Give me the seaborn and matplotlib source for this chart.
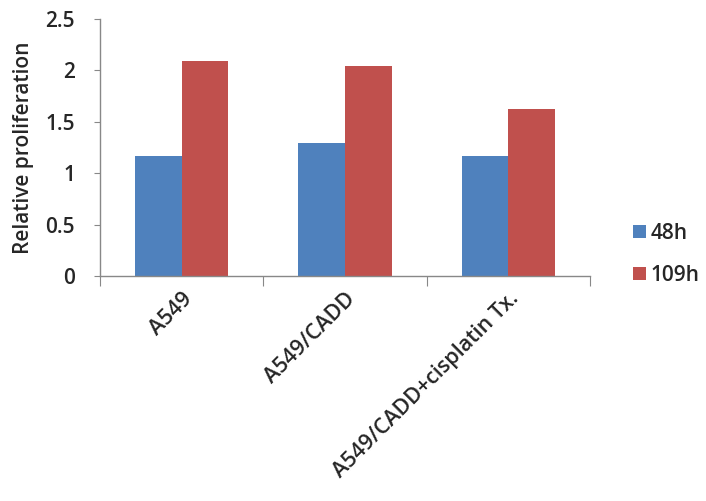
import matplotlib
matplotlib.use('Agg')
import matplotlib.pyplot as plt
import pandas as pd
import seaborn as sns

# values
groups = ['A549', 'A549/CADD', 'A549/CADD+cisplatin Tx.']
series = ['48h', '109h']
vals_48h = [1.17, 1.29, 1.17]
vals_109h = [2.09, 2.04, 1.62]
yticks = [0, 0.5, 1, 1.5, 2, 2.5]
ytick_labels = ['0', '0.5', '1', '1.5', '2', '2.5']

df = pd.DataFrame({
    'group': groups * 2,
    'time': [series[0]] * 3 + [series[1]] * 3,
    'value': vals_48h + vals_109h,
})

sns.set_style('white')
plt.rcParams['font.family'] = ['Open Sans', 'DejaVu Sans']

fig = plt.figure(figsize=(7.06, 5.01), dpi=100)
ax = fig.add_axes([100 / 706, 1 - 276 / 501, 490 / 706, 257 / 501])

sns.barplot(data=df, x='group', y='value', hue='time', order=groups,
            hue_order=series, palette=['#4F81BD', '#C0504D'],
            width=0.57, saturation=1, ax=ax, linewidth=0)

ax.set_ylim(0, 2.5)
ax.set_xlim(-0.5, 2.5)
ax.set_yticks(yticks)
ax.set_yticklabels(ytick_labels, fontsize=15, fontweight='semibold')
ax.set_xlabel('')
ax.set_ylabel('Relative proliferation', fontsize=15, fontweight='semibold', labelpad=8)

# category boundaries carry the ticks, labels sit at centres
ax.set_xticks([-0.5, 0.5, 1.5, 2.5], minor=False)
ax.set_xticklabels([])
ax.set_xticks([0, 1, 2], minor=True)
ax.set_xticklabels(groups, minor=True, rotation=45, ha='right',
                   rotation_mode='anchor', fontsize=15.5, fontweight='semibold')
ax.tick_params(axis='x', which='minor', length=0, pad=9)
ax.tick_params(axis='x', which='major', length=7, color='#888888', direction='out', bottom=True)
ax.tick_params(axis='y', length=4, color='#888888', direction='out', left=True, pad=14)

for s in ['top', 'right']:
    ax.spines[s].set_visible(False)
for s in ['left', 'bottom']:
    ax.spines[s].set_color('#888888')
    ax.spines[s].set_linewidth(1)

leg = ax.legend(loc='upper left', bbox_to_anchor=(1.05, 0.28), frameon=False,
                fontsize=15, handlelength=0.6, handleheight=0.6,
                handletextpad=0.25, labelspacing=1.0)
for t in leg.get_texts():
    t.set_fontweight('semibold')

fig.savefig('out.png', dpi=100)
